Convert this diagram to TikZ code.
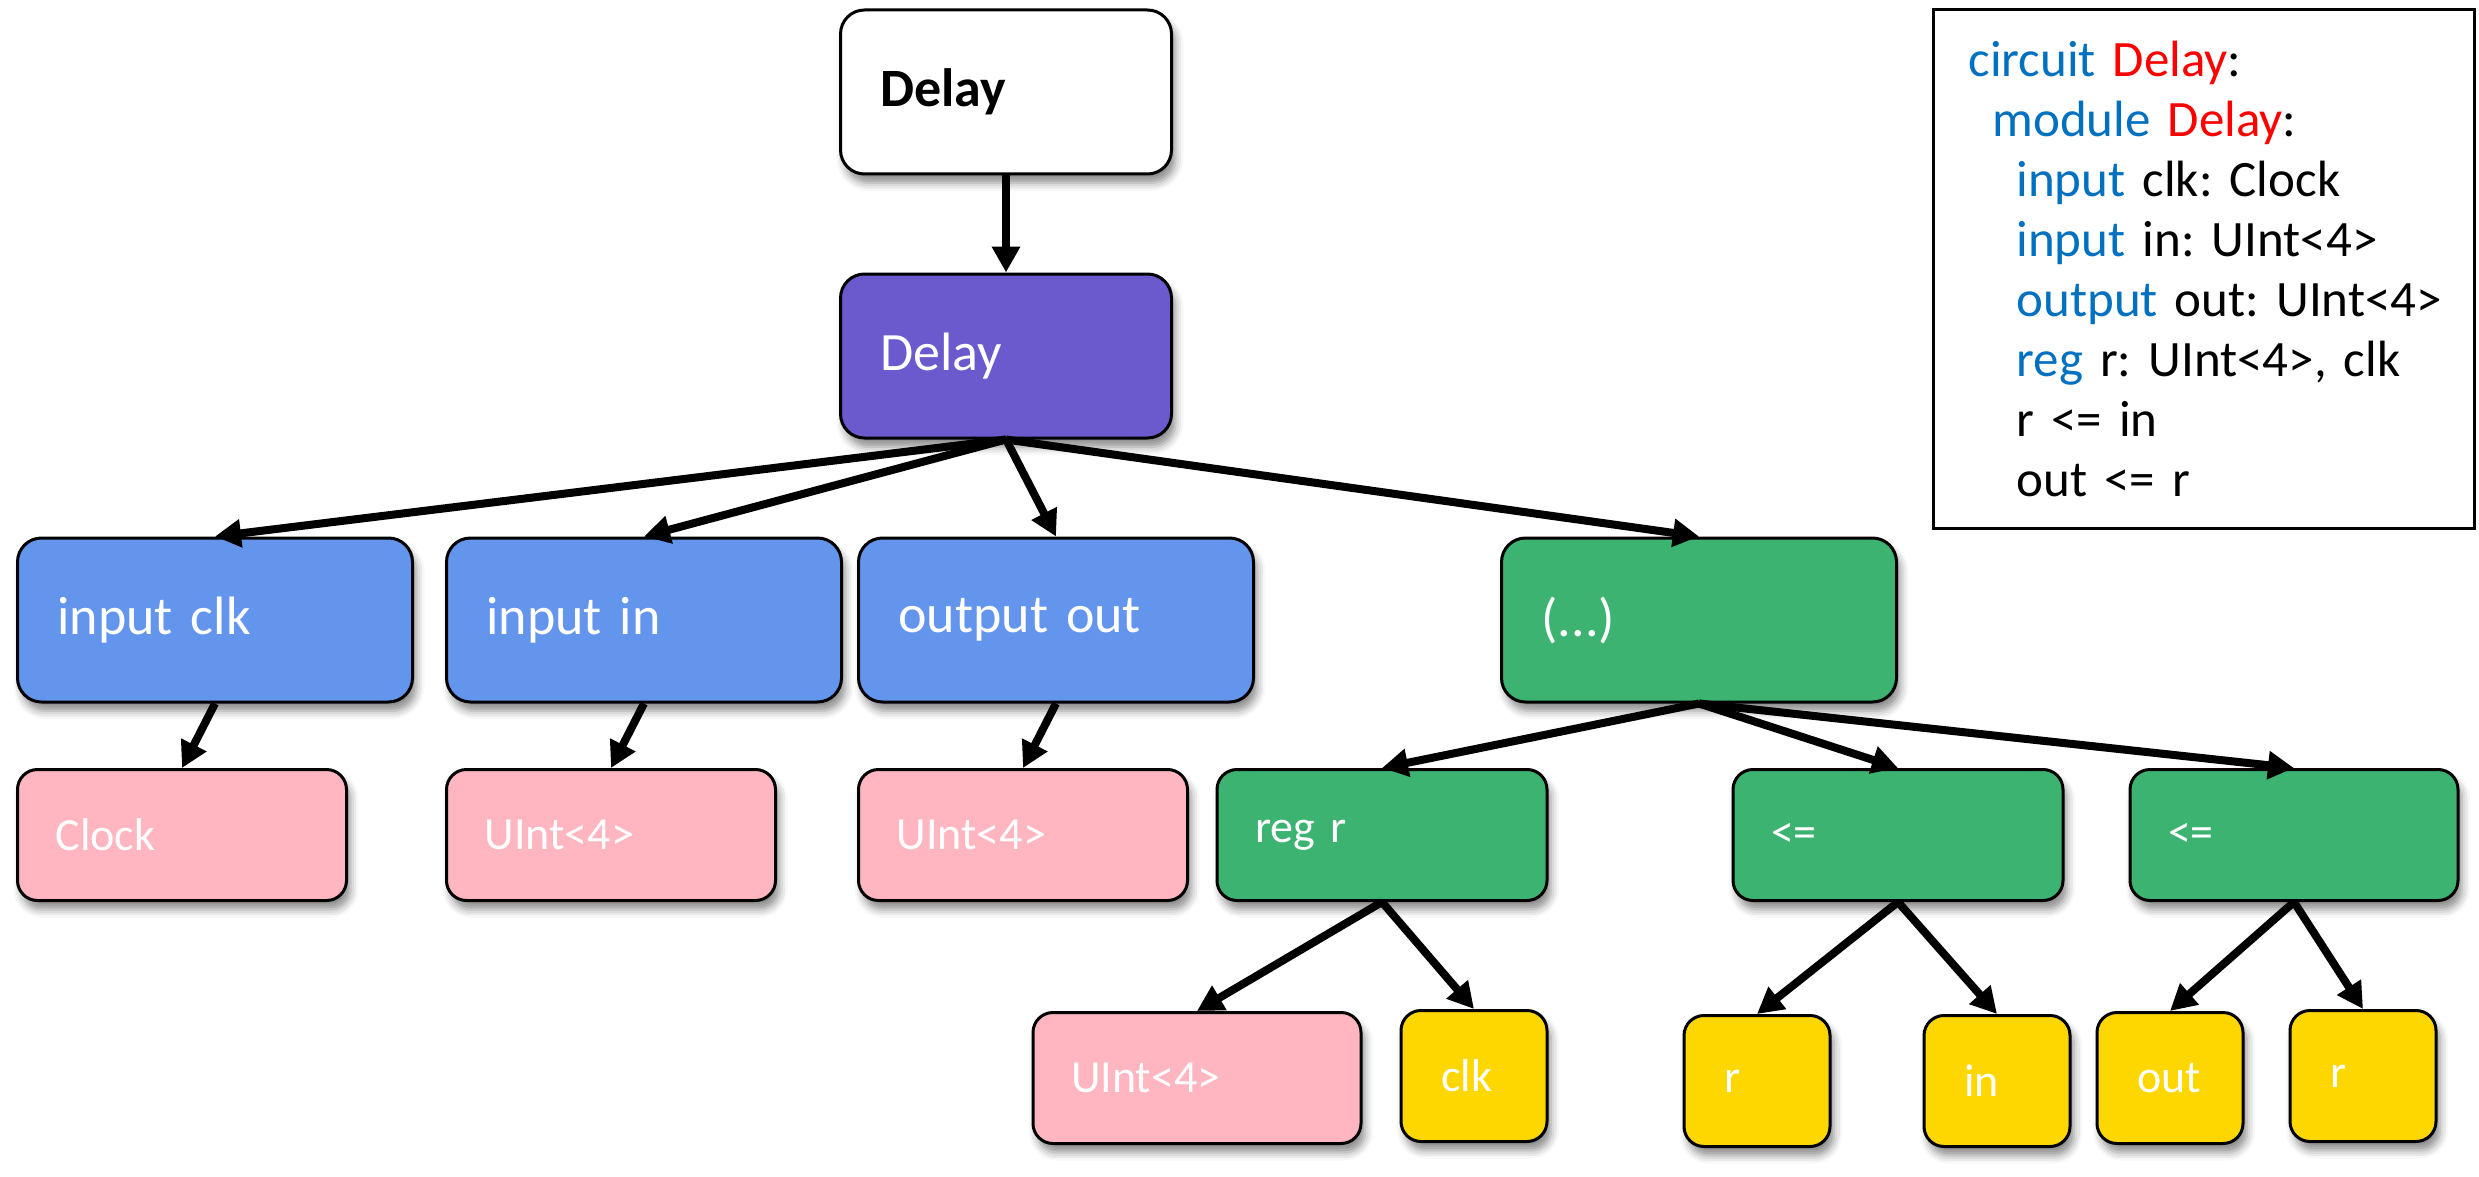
\documentclass[tikz,border=0pt]{standalone}
\usepackage{fontspec}
\setmainfont{Carlito}
\frenchspacing
\usetikzlibrary{arrows.meta,shadows.blur}
\definecolor{modpurple}{RGB}{106,90,205}
\definecolor{portblue}{RGB}{100,149,237}
\definecolor{stmtgreen}{RGB}{60,179,113}
\definecolor{typepink}{RGB}{255,182,193}
\definecolor{refgold}{RGB}{255,215,0}
\definecolor{kwblue}{RGB}{0,112,192}
\newcommand{\kw}[1]{\textcolor{kwblue}{#1}}
\newcommand{\nm}[1]{\textcolor{red}{#1}}

\tikzset{
  treebox/.style={draw, line width=3pt, rounded corners=24pt, text=white, align=left,
    inner ysep=0pt, blur shadow={shadow xshift=4pt, shadow yshift=-9pt, shadow blur radius=8pt, shadow opacity=45}},
  bigbox/.style={treebox, inner xsep=40pt, minimum height=164pt, font=\fontsize{54}{60}\selectfont},
  smallbox/.style={treebox, rounded corners=20pt, inner xsep=38pt, minimum height=131pt, font=\fontsize{46}{52}\selectfont},
  conn/.style={line width=8pt, -{Triangle[length=26pt,width=27pt]}}
}

\begin{document}
\begin{tikzpicture}[x=1pt,y=-1pt]
    \useasboundingbox (0,0) rectangle (2479,1177);
    % tree
    \node (circ) [bigbox, fill=white, text=black, text width=251pt, font=\fontsize{54}{60}\selectfont\bfseries] at (1006,92) {Delay};
    \node (mod) [bigbox, fill=modpurple, text width=251pt] at (1006,356) {Delay};
    \node (pclk) [bigbox, fill=portblue, text width=315pt] at (215,620) {input clk};
    \node (pin) [bigbox, fill=portblue, text width=315pt] at (644,620) {input in};
    \node (pout) [bigbox, fill=portblue, text width=315pt] at (1056,620) {output out};
    \node (body) [bigbox, fill=stmtgreen, text width=315pt] at (1699,620) {(...)};
    \node (tclk) [smallbox, fill=typepink, text width=253pt] at (182,835) {Clock};
    \node (tin) [smallbox, fill=typepink, text width=253pt] at (611,835) {UInt<4>};
    \node (tout) [smallbox, fill=typepink, text width=253pt] at (1023,835) {UInt<4>};
    \node (reg) [smallbox, fill=stmtgreen, text width=254pt] at (1382,835) {reg r};
    \node (cona) [smallbox, fill=stmtgreen, text width=254pt] at (1898,835) {<=};
    \node (conb) [smallbox, fill=stmtgreen, text width=252pt] at (2294,835) {<=};
    \node (regtype) [smallbox, fill=typepink, text width=252pt] at (1197,1078) {UInt<4>};
    \node (regclk) [smallbox, fill=refgold, text width=66pt, inner xsep=40pt] at (1474,1076) {clk};
    \node (refr) [smallbox, fill=refgold, text width=66pt, inner xsep=40pt] at (1757,1081) {r};
    \node (refin) [smallbox, fill=refgold, text width=66pt, inner xsep=40pt] at (1997,1081) {in};
    \node (refout) [smallbox, fill=refgold, text width=66pt, inner xsep=40pt] at (2170,1078) {out};
    \node (refr2) [smallbox, fill=refgold, text width=66pt, inner xsep=40pt] at (2363,1076) {r};

    \foreach \a/\b in {circ/mod, mod/pclk, mod/pin, mod/pout, mod/body,
                       pclk/tclk, pin/tin, pout/tout, body/reg, body/cona, body/conb,
                       reg/regtype, reg/regclk, cona/refr, cona/refin, conb/refout, conb/refr2}
        \draw[conn] (\a.south) -- (\b.north);

    % source listing
    \node (code) [draw, line width=3pt, anchor=north west, align=left, text width=471pt,
        inner xsep=35pt, minimum height=519pt, font=\fontsize{51}{60}\selectfont] at (1932,8) {%
        \kw{circuit} \nm{Delay}:\\
        \hspace*{24pt}\kw{module} \nm{Delay}:\\
        \hspace*{48pt}\kw{input} clk: Clock\\
        \hspace*{48pt}\kw{input} in: UInt<4>\\
        \mbox{\hspace*{48pt}\kw{output} out: UInt<4>}\\
        \hspace*{48pt}\kw{reg} r: UInt<4>, clk\\
        \hspace*{48pt}r <= in\\
        \hspace*{48pt}out <= r};
\end{tikzpicture}
\end{document}
